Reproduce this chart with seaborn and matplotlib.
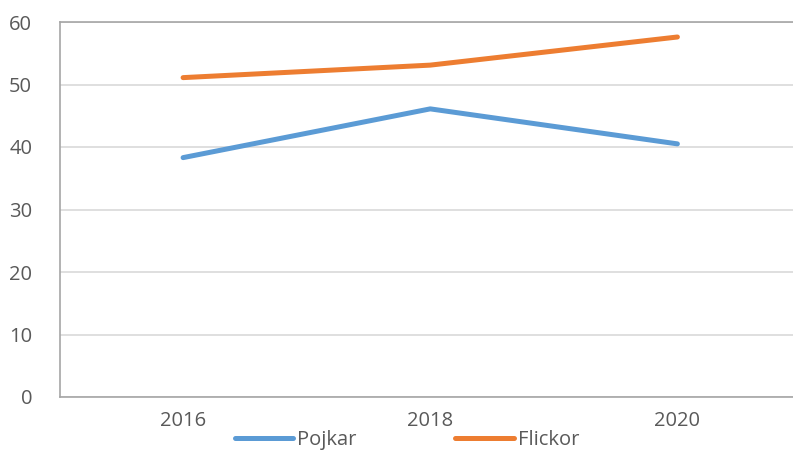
import matplotlib
matplotlib.use("Agg")
import matplotlib.pyplot as plt
import seaborn as sns
import pandas as pd
from matplotlib.lines import Line2D

years = ["2016", "2018", "2020"]
pojkar = [38.3, 46.1, 40.5]
flickor = [51.1, 53.1, 57.6]
series_names = ["Pojkar", "Flickor"]
colors = ["#5B9BD5", "#ED7D31"]
yticks = [0, 10, 20, 30, 40, 50, 60]

df = pd.DataFrame({
    "year": years * 2,
    "value": pojkar + flickor,
    "series": [series_names[0]] * 3 + [series_names[1]] * 3,
})

sns.set_theme(style="white")
plt.rcParams["font.family"] = ["Open Sans", "DejaVu Sans"]

W, H = 793, 450
fig = plt.figure(figsize=(W / 100, H / 100), dpi=100)
left, right, top, bottom = 60, 820, 22, 397
ax = fig.add_axes([left / W, 1 - bottom / H, (right - left) / W, (bottom - top) / H])

sns.lineplot(data=df, x="year", y="value", hue="series", palette=colors,
             linewidth=3.6, ax=ax, legend=False, sort=False)
for ln in ax.get_lines():
    ln.set_solid_capstyle("round")
    ln.set_solid_joinstyle("round")

ax.set_ylim(0, 60)
ax.set_xlim(-0.498, 2.5 + 19 / 247)
ax.set_yticks(yticks)
ax.set_xlabel("")
ax.set_ylabel("")
ax.xaxis.grid(False)
ax.yaxis.grid(True, color="#D9D9D9", linewidth=1.2)
ax.set_axisbelow(True)
for s in ["left", "bottom", "top"]:
    ax.spines[s].set_color("#A6A6A6")
    ax.spines[s].set_linewidth(1.2)
ax.spines["right"].set_visible(False)
ax.tick_params(axis="both", length=0, labelsize=14.5, labelcolor="#595959")
ax.tick_params(axis="y", pad=20)
ax.tick_params(axis="x", pad=10)

handles = [Line2D([], [], color=c, linewidth=3.6, solid_capstyle="round") for c in colors]
leg = fig.legend(handles, series_names, loc="center", ncol=2,
                 bbox_to_anchor=(407 / W, 1 - 440 / H), frameon=False,
                 fontsize=14.5, handlelength=2.9, handletextpad=0.2,
                 columnspacing=4.9, labelcolor="#595959")

fig.savefig("out.png", dpi=100)
